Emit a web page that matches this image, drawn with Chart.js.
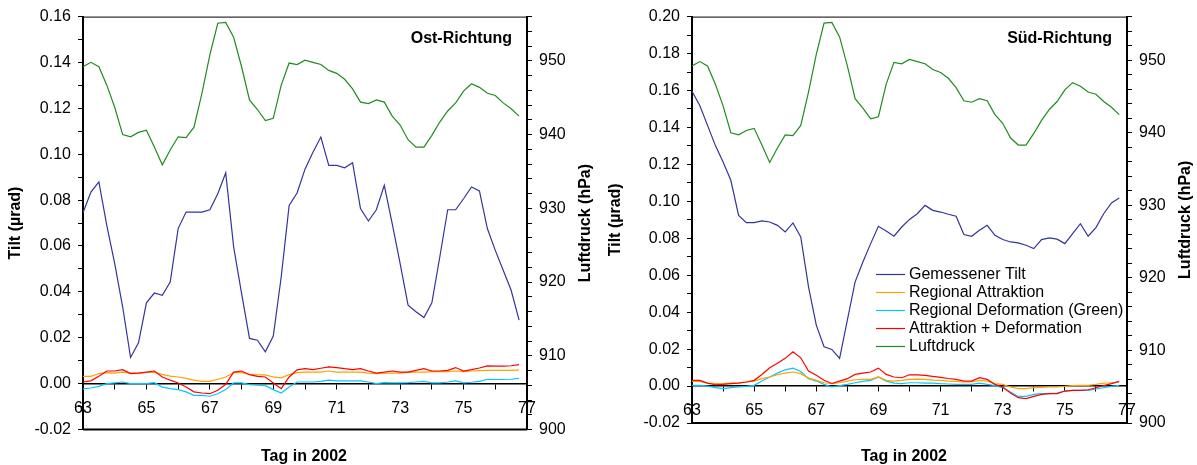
<!DOCTYPE html>
<html lang="de">
  <head>
    <meta charset="UTF-8" />
    <title>Tilt Ost / Süd</title>
    <script src="https://cdn.jsdelivr.net/npm/chart.js"></script>
    <style>
      html, body { margin: 0; padding: 0; background: #fff; overflow: hidden; }
      .box { position: absolute; top: 0; width: 600px; height: 465px; }
    </style>
  </head>
  <body>
    <div class="box" style="left: 0"><canvas id="ostChart" width="600" height="465"></canvas></div>
    <div class="box" style="left: 600px"><canvas id="suedChart" width="600" height="465"></canvas></div>

    <script>
      // Tag in 2002, alle 6 Stunden
      const days = [
        63, 63.25, 63.5, 63.75, 64, 64.25, 64.5, 64.75, 65, 65.25, 65.5, 65.75, 66, 66.25,
        66.5, 66.75, 67, 67.25, 67.5, 67.75, 68, 68.25, 68.5, 68.75, 69, 69.25, 69.5, 69.75,
        70, 70.25, 70.5, 70.75, 71, 71.25, 71.5, 71.75, 72, 72.25, 72.5, 72.75, 73, 73.25,
        73.5, 73.75, 74, 74.25, 74.5, 74.75, 75, 75.25, 75.5, 75.75, 76, 76.25, 76.5, 76.75
      ];

      // Luftdruck (hPa), in beiden Diagrammen gleich
      const luftdruck = [
        949.2, 949.8, 949.2, 946.7, 943.7, 940.0, 939.7, 940.3, 940.6, 938.3, 935.9, 937.9, 939.7, 939.6,
        941.0, 945.6, 950.8, 955.1, 955.2, 953.2, 949.2, 944.7, 943.4, 941.9, 942.2, 946.7, 949.7, 949.5,
        950.1, 949.8, 949.5, 948.7, 948.3, 947.5, 946.2, 944.4, 944.2, 944.7, 944.4, 942.5, 941.3, 939.3,
        938.3, 938.3, 939.9, 941.7, 943.2, 944.3, 945.9, 946.9, 946.4, 945.6, 945.3, 944.3, 943.5, 942.5
      ];

      // Ost-Richtung (µrad)
      const ostTilt = [
        0.0745, 0.0835, 0.0879, 0.069, 0.0523, 0.0335, 0.0114, 0.0178, 0.0352, 0.0395, 0.0385, 0.0443, 0.0676, 0.0748,
        0.0748, 0.0748, 0.0758, 0.0828, 0.0919, 0.0596, 0.0393, 0.0197, 0.0189, 0.0139, 0.0207, 0.0465, 0.0777, 0.0831,
        0.0935, 0.1009, 0.1075, 0.0951, 0.0951, 0.0941, 0.0963, 0.0763, 0.0709, 0.0758, 0.0864, 0.0697, 0.0523, 0.0342,
        0.0313, 0.0288, 0.0352, 0.0552, 0.0758, 0.0758, 0.0806, 0.0857, 0.084, 0.0676, 0.0581, 0.0494, 0.0407, 0.0277
      ];
      const ostAttraktion = [
        0.0032, 0.0032, 0.0044, 0.0048, 0.0046, 0.005, 0.0046, 0.0046, 0.0049, 0.005, 0.004, 0.0033, 0.0029, 0.0023,
        0.0015, 0.001, 0.001, 0.0019, 0.0029, 0.0048, 0.0048, 0.004, 0.0038, 0.0038, 0.0029, 0.0025, 0.0039, 0.0048,
        0.005, 0.005, 0.005, 0.0055, 0.005, 0.005, 0.005, 0.005, 0.0046, 0.0044, 0.0046, 0.0046, 0.0046, 0.0049,
        0.005, 0.005, 0.0052, 0.0052, 0.0052, 0.0055, 0.0052, 0.0055, 0.0057, 0.0058, 0.0058, 0.0058, 0.0058, 0.006
      ];
      const ostDeformation = [
        -0.0023, -0.0019, -0.0012, 0.0, 0.0003, 0.0007, 0.0, 0.0, 0.0, 0.0004, -0.0015, -0.0022, -0.0026, -0.0036,
        -0.0051, -0.0051, -0.0055, -0.0044, -0.0026, 0.0003, 0.0003, -0.0004, -0.0007, -0.0009, -0.0026, -0.0041, -0.0015, 0.0007,
        0.0007, 0.0007, 0.001, 0.0015, 0.0012, 0.0012, 0.0012, 0.0012, 0.0007, 0.0, 0.0004, 0.0003, 0.0003, 0.0004,
        0.0007, 0.001, 0.0003, 0.0003, 0.0007, 0.0012, 0.0003, 0.0006, 0.001, 0.0019, 0.0018, 0.0018, 0.0019, 0.0023
      ];
      const ostSumme = [
        0.0007, 0.0012, 0.0032, 0.0055, 0.0055, 0.0061, 0.0044, 0.0046, 0.005, 0.0055, 0.0029, 0.0015, 0.0003, -0.0015,
        -0.0036, -0.0041, -0.0044, -0.0029, -0.0003, 0.005, 0.0055, 0.0039, 0.0032, 0.0029, 0.0003, -0.0022, 0.0029, 0.006,
        0.0065, 0.0061, 0.0067, 0.0073, 0.007, 0.0065, 0.0061, 0.0065, 0.0055, 0.0046, 0.005, 0.0055, 0.005, 0.005,
        0.0058, 0.0065, 0.0055, 0.0055, 0.0058, 0.007, 0.0055, 0.0061, 0.0068, 0.0077, 0.0076, 0.0076, 0.0078, 0.0083
      ];

      // Süd-Richtung (µrad)
      const suedTilt = [
        0.1596, 0.1519, 0.1411, 0.1303, 0.1213, 0.1114, 0.0924, 0.0885, 0.0885, 0.0894, 0.0888, 0.087, 0.0834, 0.0883,
        0.0807, 0.0537, 0.033, 0.0213, 0.0198, 0.015, 0.0357, 0.0564, 0.0672, 0.0771, 0.0865, 0.084, 0.0811, 0.0861,
        0.0902, 0.0933, 0.0978, 0.0951, 0.0942, 0.093, 0.0919, 0.082, 0.0811, 0.0843, 0.087, 0.0816, 0.0793, 0.078,
        0.0775, 0.0762, 0.0744, 0.0793, 0.0802, 0.0795, 0.0771, 0.0825, 0.0879, 0.0811, 0.0858, 0.0933, 0.0991, 0.1018
      ];
      const suedAttraktion = [
        0.0025, 0.0025, 0.0016, 0.0013, 0.0013, 0.0016, 0.0018, 0.0022, 0.0027, 0.004, 0.0049, 0.0061, 0.007, 0.0076,
        0.0067, 0.0043, 0.0031, 0.0018, 0.0013, 0.0018, 0.0027, 0.0034, 0.0036, 0.0036, 0.0049, 0.0031, 0.0027, 0.0031,
        0.0036, 0.0038, 0.0036, 0.0032, 0.0031, 0.0027, 0.0025, 0.0022, 0.0022, 0.0031, 0.0027, 0.0013, 0.0009, -0.0005,
        -0.0014, -0.0014, -0.0009, -0.0007, -0.0005, -0.0005, -0.0002, 0.0002, 0.0004, 0.0004, 0.0009, 0.0016, 0.0018, 0.0022
      ];
      const suedDeformation = [
        0.0004, 0.0004, 0.0, -0.0009, -0.0014, -0.0009, -0.0005, -0.0002, 0.0004, 0.0027, 0.0049, 0.007, 0.0088, 0.0097,
        0.0079, 0.004, 0.0027, 0.0009, -0.0005, 0.0002, 0.0009, 0.0018, 0.0025, 0.0031, 0.0049, 0.0027, 0.0016, 0.0013,
        0.0018, 0.0018, 0.0016, 0.0016, 0.0013, 0.0011, 0.0009, 0.0009, 0.0009, 0.0016, 0.0009, 0.0002, -0.0009, -0.0032,
        -0.0056, -0.0056, -0.0045, -0.0041, -0.0041, -0.0038, -0.0027, -0.0023, -0.0023, -0.0023, -0.0016, -0.0009, -0.0002, 0.0004
      ];
      const suedSumme = [
        0.0031, 0.0031, 0.0016, 0.0007, 0.0009, 0.0013, 0.0016, 0.0022, 0.0031, 0.0063, 0.0099, 0.0124, 0.015, 0.0186,
        0.0153, 0.0081, 0.0058, 0.0031, 0.0014, 0.0027, 0.004, 0.0063, 0.007, 0.0076, 0.0097, 0.0063, 0.0049, 0.0045,
        0.0061, 0.0061, 0.0058, 0.0052, 0.0047, 0.0041, 0.0036, 0.0027, 0.0027, 0.0045, 0.0036, 0.0009, -0.0005, -0.0038,
        -0.0063, -0.0068, -0.0056, -0.0045, -0.0041, -0.0041, -0.0027, -0.0023, -0.0023, -0.002, -0.0009, 0.0002, 0.0013, 0.0025
      ];

      const seriesNames = [
        "Gemessener Tilt",
        "Regional Attraktion",
        "Regional Deformation (Green)",
        "Attraktion + Deformation",
        "Luftdruck",
      ];
      const seriesColors = ["#34349c", "#ffa200", "#00c8ff", "#ff0000", "#1f8c1f"];

      const FONT = "'Liberation Sans', Arial, sans-serif";
      Chart.defaults.font.family = FONT;
      Chart.defaults.color = "#000";

      const toPoints = (vals) => vals.map((v, i) => ({ x: days[i], y: v }));

      // Rahmen, Beschriftungen und Legende
      const extrasPlugin = {
        id: "extras",
        afterDraw(chart, args, opts) {
          const { ctx, chartArea: a } = chart;
          ctx.save();
          ctx.strokeStyle = "#000";
          ctx.lineWidth = 1;
          ctx.beginPath();
          ctx.moveTo(a.left, a.top + 0.5);
          ctx.lineTo(a.right, a.top + 0.5);
          ctx.stroke();
          ctx.lineWidth = 2;
          ctx.beginPath();
          ctx.moveTo(a.left, a.bottom);
          ctx.lineTo(a.right, a.bottom);
          ctx.stroke();

          ctx.fillStyle = "#000";
          ctx.font = "bold 16px " + FONT;
          ctx.textBaseline = "alphabetic";
          ctx.textAlign = "right";
          ctx.fillText(opts.title, a.right - 15, 43);
          ctx.textAlign = "center";
          ctx.fillText("Tag in 2002", 304, 461);

          // rechte Achsenbeschriftung, von unten nach oben
          ctx.save();
          ctx.translate(586, (a.top + a.bottom) / 2);
          ctx.rotate(-Math.PI / 2);
          ctx.textBaseline = "middle";
          ctx.fillText("Luftdruck (hPa)", 0, 0);
          ctx.restore();

          if (opts.legend) {
            ctx.font = "16px " + FONT;
            ctx.textAlign = "left";
            ctx.textBaseline = "middle";
            chart.data.datasets.forEach((ds, k) => {
              const y = Math.round(273.7 + 18.1 * k) + 0.5;
              ctx.strokeStyle = ds.borderColor;
              ctx.lineWidth = 1.2;
              ctx.beginPath();
              ctx.moveTo(276, y);
              ctx.lineTo(305, y);
              ctx.stroke();
              ctx.fillText(ds.label, 309, y);
            });
          }
          ctx.restore();
        },
      };

      function makeChart(id, title, tilt, attr, defo, sum, yMax, padBottom, leftWidth, showLegend) {
        const values = [tilt, attr, defo, sum, luftdruck];
        const datasets = values.map((vals, k) => ({
          label: seriesNames[k],
          data: toPoints(vals),
          borderColor: seriesColors[k],
          borderWidth: 1.2,
          pointRadius: 0,
          tension: 0,
          fill: false,
          yAxisID: k === 4 ? "y2" : "y",
          order: k === 3 ? -1 : k,
        }));

        return new Chart(document.getElementById(id), {
          type: "line",
          data: { datasets },
          plugins: [extrasPlugin],
          options: {
            responsive: false,
            animation: false,
            devicePixelRatio: 1,
            layout: { padding: { top: 16, bottom: padBottom, left: 0, right: 0 } },
            plugins: {
              legend: { display: false },
              tooltip: { enabled: false },
              extras: { title, legend: showLegend },
            },
            scales: {
              x: {
                type: "linear",
                position: { y: 0 },
                min: 63,
                max: 77,
                grid: { drawOnChartArea: false, tickLength: 5, color: "#000" },
                border: { display: true, color: "#000", width: 1.5 },
                ticks: {
                  stepSize: 1,
                  autoSkip: false,
                  maxRotation: 0,
                  padding: 10,
                  font: { size: 16 },
                  callback: (v) => (v % 2 === 1 ? String(v) : ""),
                },
              },
              y: {
                position: "left",
                min: -0.02,
                max: yMax,
                afterFit: (s) => { s.width = leftWidth; },
                grid: { drawOnChartArea: false, tickLength: 5, color: "#000" },
                border: { display: true, color: "#000", width: 2 },
                title: {
                  display: true,
                  text: "Tilt (µrad)",
                  font: { size: 16, weight: "bold" },
                  padding: { top: 6, bottom: 0 },
                },
                ticks: {
                  stepSize: 0.01,
                  autoSkip: false,
                  padding: 7,
                  font: { size: 16 },
                  callback: (v) => (Math.round(v * 100) % 2 === 0 ? v.toFixed(2) : ""),
                },
              },
              y2: {
                position: "right",
                min: 900,
                max: 956,
                afterFit: (s) => { s.width = 73; },
                grid: { drawOnChartArea: false, tickLength: 5, color: "#000" },
                border: { display: true, color: "#000", width: 2 },
                ticks: {
                  stepSize: 2,
                  autoSkip: false,
                  padding: 7,
                  font: { size: 16 },
                  callback: (v) => (v % 10 === 0 ? String(v) : ""),
                },
              },
            },
          },
        });
      }

      makeChart("ostChart", "Ost-Richtung", ostTilt, ostAttraktion, ostDeformation, ostSumme, 0.16, 35.5, 83, false);
      makeChart("suedChart", "Süd-Richtung", suedTilt, suedAttraktion, suedDeformation, suedSumme, 0.2, 42, 92, true);
    </script>
  </body>
</html>
